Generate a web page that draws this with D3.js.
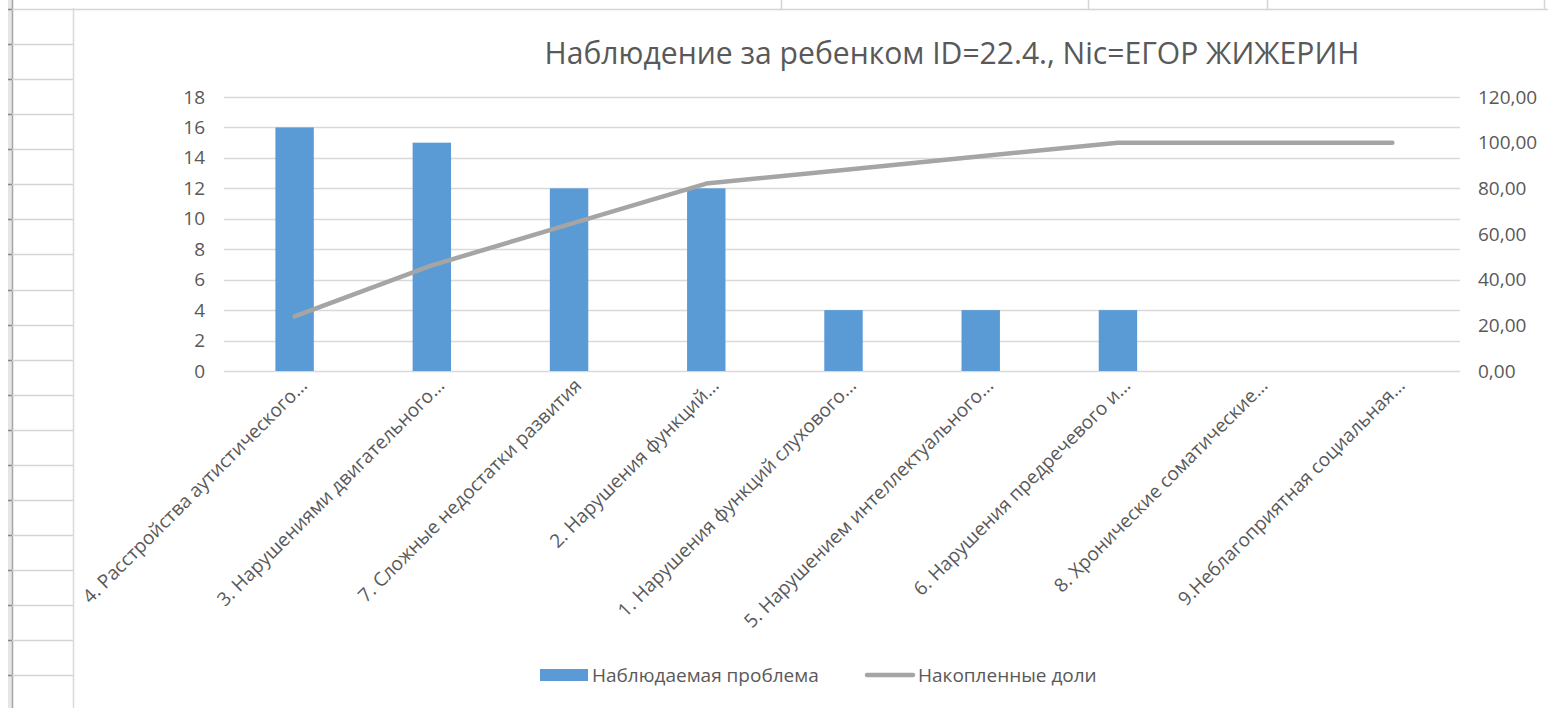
<!DOCTYPE html>
<html>
<head>
<meta charset="utf-8">
<script src="https://cdn.jsdelivr.net/npm/d3@7"></script>
<style>
  html, body { margin: 0; padding: 0; background: #fff; }
  svg { display: block; }
  text { font-family: "Open Sans", "Noto Sans", sans-serif; fill: #595959; }
</style>
</head>
<body>
<svg id="chart" width="1548" height="708"></svg>
<script>
// ---- data ----
const titleText = "Наблюдение за ребенком ID=22.4., Nic=ЕГОР ЖИЖЕРИН";
const categories = [
  "4. Расстройства аутистического...",
  "3. Нарушениями двигательного...",
  "7. Сложные недостатки развития",
  "2. Нарушения функций...",
  "1. Нарушения функций слухового...",
  "5. Нарушением интеллектуального...",
  "6. Нарушения предречевого и...",
  "8. Хронические соматические...",
  "9.Неблагоприятная социальная..."
];
const observed = [16, 15, 12, 12, 4, 4, 4, 0, 0];
const cumulative = [23.88, 46.27, 64.18, 82.09, 88.06, 94.03, 100.00, 100.00, 100.00];
const leftTicks = [0, 2, 4, 6, 8, 10, 12, 14, 16, 18];
const rightTicks = [0, 20, 40, 60, 80, 100, 120];
const seriesNames = ["Наблюдаемая проблема", "Накопленные доли"];

const svg = d3.select("#chart");

// ---- spreadsheet background (decoration) ----
const bg = svg.append("g");
bg.append("rect").attr("x", 8).attr("y", 0).attr("width", 4).attr("height", 708).attr("fill", "#e6e6e6");
bg.append("line").attr("x1", 12.5).attr("x2", 12.5).attr("y1", 0).attr("y2", 708).attr("stroke", "#a6a6a6").attr("stroke-width", 1.5);
const rowYs = d3.range(0, 20).map(i => 9 + i * 35.07);
bg.selectAll(".row").data(rowYs).join("line")
  .attr("x1", 8).attr("x2", 73).attr("y1", d => Math.round(d) + 0.5).attr("y2", d => Math.round(d) + 0.5)
  .attr("stroke", "#d4d4d4").attr("stroke-width", 1.5);
bg.selectAll(".rowtick").data(rowYs).join("line")
  .attr("x1", 8).attr("x2", 12).attr("y1", d => Math.round(d) + 0.5).attr("y2", d => Math.round(d) + 0.5)
  .attr("stroke", "#8a8a8a").attr("stroke-width", 1.5);
bg.append("line").attr("x1", 73).attr("x2", 1548).attr("y1", 9.5).attr("y2", 9.5).attr("stroke", "#d4d4d4").attr("stroke-width", 1.5);
[781, 1088, 1267, 1544].forEach(x => {
  bg.append("line").attr("x1", x + 0.5).attr("x2", x + 0.5).attr("y1", 0).attr("y2", 9).attr("stroke", "#d4d4d4").attr("stroke-width", 1.5);
});
bg.append("line").attr("x1", 73.5).attr("x2", 73.5).attr("y1", 8).attr("y2", 708).attr("stroke", "#d9d9d9").attr("stroke-width", 1.5);

// ---- scales ----
const plotLeft = 224, plotRight = 1460, plotTop = 97, plotBottom = 371;
const x = d3.scaleBand().domain(categories).range([plotLeft + 2, plotRight + 1]).paddingInner(0.72).paddingOuter(0.36);
const yL = d3.scaleLinear().domain([0, 18]).range([plotBottom, plotTop]);
const yR = d3.scaleLinear().domain([0, 120]).range([plotBottom, plotTop]);
const cx = d => x(d) + x.bandwidth() / 2;

// gridlines
svg.append("g").selectAll("line").data(leftTicks).join("line")
  .attr("x1", plotLeft).attr("x2", plotRight)
  .attr("y1", d => Math.round(yL(d)) + 0.5).attr("y2", d => Math.round(yL(d)) + 0.5)
  .attr("stroke", "#d9d9d9").attr("stroke-width", 1.3);

// left axis
const gL = svg.append("g").attr("transform", `translate(${plotLeft},0)`)
  .call(d3.axisLeft(yL).tickValues(leftTicks).tickSize(0).tickPadding(19).tickFormat(d3.format("d")));
gL.select(".domain").remove();
gL.selectAll("text").style("font-size", "19px").attr("fill", "#595959");

// right axis
const fmtR = d => d3.format(".2f")(d).replace(".", ",");
const gR = svg.append("g").attr("transform", `translate(${plotRight},0)`)
  .call(d3.axisRight(yR).tickValues(rightTicks).tickSize(0).tickPadding(18).tickFormat(fmtR));
gR.select(".domain").remove();
gR.selectAll("text").style("font-size", "19px").attr("fill", "#595959");

// bars
svg.append("g").selectAll("rect").data(categories).join("rect")
  .attr("x", d => x(d)).attr("width", x.bandwidth())
  .attr("y", (d, i) => yL(observed[i])).attr("height", (d, i) => yL(0) - yL(observed[i]))
  .attr("fill", "#5b9bd5");

// cumulative line
const line = d3.line().x((d, i) => cx(categories[i])).y(d => yR(d));
svg.append("path").datum(cumulative).attr("d", line)
  .attr("fill", "none").attr("stroke", "#a5a5a5").attr("stroke-width", 4.5)
  .attr("stroke-linecap", "round").attr("stroke-linejoin", "round");

// category labels
svg.append("g").selectAll("text").data(categories).join("text")
  .attr("transform", d => `translate(${cx(d) + 9},${plotBottom + 11}) rotate(-45)`)
  .attr("text-anchor", "end").attr("dy", "0.35em")
  .style("font-size", "19px").text(d => d);

// title (fit to width)
const t = svg.append("text").attr("x", 952).attr("y", 64).attr("text-anchor", "middle")
  .style("font-size", "100px").text(titleText);
const w = t.node().getComputedTextLength();
t.style("font-size", (100 * 815 / w).toFixed(2) + "px");

// legend
const lg = svg.append("g");
lg.append("rect").attr("x", 540).attr("y", 669).attr("width", 48).attr("height", 12).attr("fill", "#5b9bd5");
lg.append("text").attr("x", 592).attr("y", 675).attr("dy", "0.35em").style("font-size", "19px").text(seriesNames[0]);
lg.append("line").attr("x1", 867).attr("x2", 913).attr("y1", 675).attr("y2", 675)
  .attr("stroke", "#a5a5a5").attr("stroke-width", 4.5).attr("stroke-linecap", "round");
lg.append("text").attr("x", 918).attr("y", 675).attr("dy", "0.35em").style("font-size", "19px").text(seriesNames[1]);
</script>
</body>
</html>
